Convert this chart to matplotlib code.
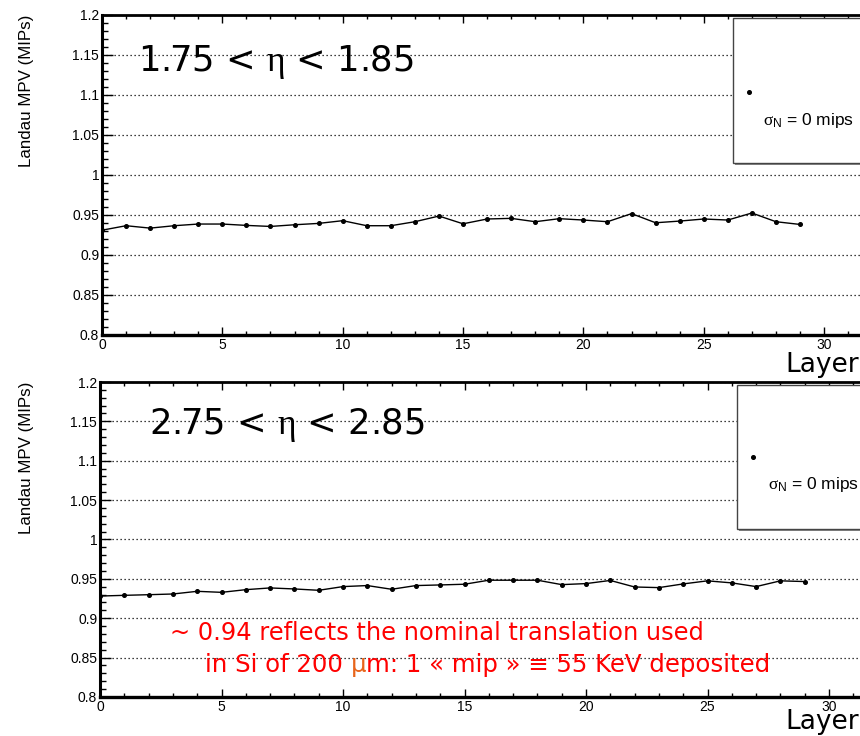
import matplotlib
matplotlib.use("Agg")
import matplotlib.pyplot as plt
from matplotlib.ticker import MultipleLocator
from matplotlib.patches import Rectangle

W, H = 860, 736

layers = list(range(30))
mpv_eta_175 = [0.931, 0.9366, 0.9336, 0.9366, 0.9387, 0.9387, 0.937, 0.9357, 0.9378, 0.9395,
               0.9429, 0.9366, 0.9366, 0.9416, 0.9487, 0.939, 0.945, 0.9458, 0.9416, 0.9454,
               0.9437, 0.9416, 0.9517, 0.9403, 0.9424, 0.945, 0.9437, 0.9525, 0.9416, 0.9382]
mpv_eta_275 = [0.9282, 0.9291, 0.9299, 0.9308, 0.9342, 0.9329, 0.9363, 0.9385, 0.9372, 0.9355,
               0.9402, 0.9415, 0.9368, 0.9415, 0.9423, 0.9432, 0.9483, 0.9483, 0.9483, 0.9427,
               0.944, 0.948, 0.9397, 0.9389, 0.9436, 0.9475, 0.9449, 0.9402, 0.9475, 0.9466]
eta_titles = ["1.75 < $\\eta$ < 1.85", "2.75 < $\\eta$ < 2.85"]
legend_label = "$\\sigma_{\\mathsf{N}}$ = 0 mips"
ylabel = "Landau MPV (MIPs)"
xlabel = "Layer"
note_line1 = "~ 0.94 reflects the nominal translation used"
note_line2 = ["in Si of 200 ", "\u03bc", "m: 1 \u00ab mip \u00bb \u2261 55 KeV deposited"]

plt.rcParams["mathtext.fontset"] = "custom"
plt.rcParams["mathtext.rm"] = "Liberation Serif"
plt.rcParams["mathtext.it"] = "Liberation Serif"
plt.rcParams["mathtext.sf"] = "Liberation Sans"

fig = plt.figure(figsize=(W / 100, H / 100), dpi=100)
fig.patch.set_facecolor("white")


def fx(px):
    return px / W


def fy(py):
    return 1 - py / H


def panel(left, top, bottom, unit_px, values, title, title_xy, leg_box, leg_dot, leg_text, ylab_y, layer_y):
    ax = fig.add_axes([fx(left), fy(bottom), fx(W - left), (bottom - top) / H])
    ax.set_xlim(0, (W - left) / unit_px)
    ax.set_ylim(0.8, 1.2)
    ax.plot(layers, values, color="black", lw=1.0, marker="o", ms=2.6, zorder=3)
    ax.xaxis.set_major_locator(MultipleLocator(5))
    ax.xaxis.set_minor_locator(MultipleLocator(1))
    ax.yaxis.set_major_locator(MultipleLocator(0.05))
    ax.yaxis.set_minor_locator(MultipleLocator(0.01))
    ax.yaxis.set_major_formatter(matplotlib.ticker.FuncFormatter(lambda v, p: f"{v:g}"))
    ax.tick_params(which="both", direction="in", top=True, right=False, width=1.0,
                   labelsize=10, pad=2)
    ax.tick_params(which="major", axis="x", length=5.5)
    ax.tick_params(which="minor", axis="x", length=3)
    ax.tick_params(which="major", axis="y", length=8)
    ax.tick_params(which="minor", axis="y", length=4.5)
    for lab in ax.get_xticklabels() + ax.get_yticklabels():
        lab.set_fontfamily("Liberation Sans")
    ax.spines["right"].set_visible(False)
    ax.spines["left"].set_linewidth(2.2)
    ax.spines["bottom"].set_linewidth(2.4)
    ax.spines["top"].set_linewidth(2.0)
    ax.grid(axis="y", which="major", linestyle=(0, (1, 2.2)), color="black", lw=0.9)
    ax.set_axisbelow(True)

    fig.text(fx(title_xy[0]), fy(title_xy[1]), title, fontsize=25.5, family="DejaVu Sans",
             va="center", ha="left")
    fig.text(fx(W - 1), fy(layer_y), xlabel, fontsize=19, family="DejaVu Sans",
             va="center", ha="right")
    fig.text(fx(27), fy(ylab_y), ylabel, fontsize=12.2, family="Liberation Sans",
             rotation=90, va="center", ha="center")

    x0, y0, x1, y1 = leg_box
    fig.patches.append(Rectangle((fx(x0) + 0.002, fy(y1) - 0.003), fx(x1 - x0), (y1 - y0) / H,
                                 transform=fig.transFigure, facecolor="#888888",
                                 edgecolor="none", zorder=5))
    fig.patches.append(Rectangle((fx(x0), fy(y1)), fx(x1 - x0), (y1 - y0) / H,
                                 transform=fig.transFigure, facecolor="white",
                                 edgecolor="#444444", lw=1.0, zorder=6))
    fig.lines.append(matplotlib.lines.Line2D([fx(leg_dot[0])], [fy(leg_dot[1])], marker="o",
                                             ms=2.6, color="black", transform=fig.transFigure,
                                             zorder=7))
    fig.text(fx(leg_text[0]), fy(leg_text[1]), legend_label, fontsize=12.5,
             family="Liberation Sans", va="center", ha="left", zorder=7)
    return ax


panel(102, 15, 335, 24.07, mpv_eta_175, eta_titles[0], (138, 62),
      (733, 18, 875, 163), (749, 92), (763, 120), 91, 365)
panel(100, 382, 697, 24.3, mpv_eta_275, eta_titles[1], (149, 425),
      (737, 385, 875, 529), (753, 457), (768, 485), 458, 722)

red = "#ff0000"
fig.text(fx(170), fy(633), note_line1, fontsize=17.4, color=red, family="DejaVu Sans",
         va="center", ha="left")

fig.canvas.draw()
renderer = fig.canvas.get_renderer()
xpos = fx(205)
colors = [red, "#e8641a", red]
for piece, col in zip(note_line2, colors):
    t = fig.text(xpos, fy(665), piece, fontsize=17.6, color=col, family="DejaVu Sans",
                 va="center", ha="left")
    bb = t.get_window_extent(renderer)
    xpos = (bb.x1) / W

fig.savefig("out.png", dpi=100, facecolor="white")
